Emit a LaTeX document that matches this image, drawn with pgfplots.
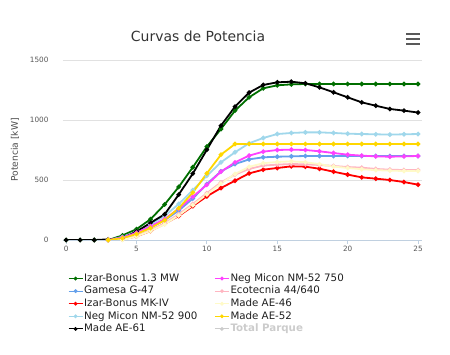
\documentclass[border=0pt]{standalone}
\usepackage{fontspec}
\setmainfont{DejaVu Sans}
\usepackage{pgfplots}
\pgfplotsset{compat=1.18}
\definecolor{cGreen}{RGB}{0,110,0}
\definecolor{cBlue}{RGB}{100,160,235}
\definecolor{cRed}{RGB}{255,0,0}
\definecolor{cLBlue}{RGB}{160,215,235}
\definecolor{cMag}{RGB}{255,64,255}
\definecolor{cPink}{RGB}{255,182,193}
\definecolor{cLYel}{RGB}{255,250,200}
\definecolor{cYel}{RGB}{255,215,0}
\definecolor{cGray}{RGB}{204,204,204}
\definecolor{cAxis}{RGB}{192,208,224}
\definecolor{cGrid}{RGB}{225,225,225}
\definecolor{cTick}{RGB}{85,85,85}
\definecolor{cTitle}{RGB}{51,51,51}
\definecolor{cLeg}{RGB}{30,30,30}
\begin{document}
\begin{tikzpicture}
\path[use as bounding box] (0,0) rectangle (450bp,355bp);
\node[anchor=base, text=cTitle, font=\fontsize{14}{16}\selectfont] at (198bp,313.3bp) {Curvas de Potencia};
\foreach \yy in {321bp,315.7bp,311bp} \draw[line width=1.8bp, color=black!65] (406bp,\yy) -- (420bp,\yy);
\node[rotate=90, text=black!70, font=\fontsize{9.2}{11}\selectfont] at (15bp,205bp) {Potencia [kW]};
\begin{axis}[
  at={(62.7bp,115bp)}, anchor=south west,
  scale only axis, width=359bp, height=180bp,
  xmin=-0.24, xmax=25.26, ymin=0, ymax=1500,
  xtick={0,5,10,15,20,25}, ytick={0,500,1000,1500},
  axis x line*=bottom, axis y line*=left,
  y axis line style={draw=none},
  x axis line style={draw=cAxis, line width=0.8bp},
  ytick style={draw=none},
  xtick style={draw=cAxis, line width=0.8bp},
  tick align=outside, major tick length=4bp,
  ymajorgrids, major grid style={draw=cGrid, line width=0.6bp},
  tick label style={font=\fontsize{7.3}{8}\selectfont, text=cTick},
  /pgf/number format/assume math mode=true,
  /pgf/number format/1000 sep={},
  yticklabel style={inner sep=0pt, xshift=-10bp},
  xticklabel style={inner sep=0pt, yshift=-2bp},
  every axis plot/.append style={line width=1.8bp, mark=*, mark size=1.3bp, mark options={solid}},
  legend style={draw=none, fill=none, at={(0.0148,-0.179)}, anchor=north west,
    font=\fontsize{10.3}{12}\selectfont, text=cLeg, inner sep=0pt, outer sep=0pt,
    row sep=0pt,
    nodes={inner sep=1bp, text height=8bp, text depth=2.6bp},
    /tikz/every even column/.append style={column sep=16bp}},
  legend cell align=left, legend columns=5, transpose legend,
  legend image code/.code={\draw[mark repeat=2,mark phase=2,#1,line width=1.1bp] plot coordinates {(0bp,0bp) (7bp,0bp) (14bp,0bp)};},
]
\addplot[color=cGreen] coordinates {(0,0)(1,0)(2,0)(3,0)(4,38)(5,90)(6,173)(7,296)(8,442)(9,606)(10,778)(11,925)(12,1078)(13,1189)(14,1264)(15,1289)(16,1297)(17,1300)(18,1300)(19,1300)(20,1300)(21,1300)(22,1300)(23,1300)(24,1300)(25,1300)};
\addlegendentry{Izar-Bonus 1.3 MW}
\addplot[color=cBlue] coordinates {(3,0)(4,20)(5,55)(6,105)(7,165)(8,245)(9,345)(10,467)(11,572)(12,633)(13,672)(14,689)(15,694)(16,697)(17,700)(18,700)(19,700)(20,700)(21,700)(22,700)(23,700)(24,700)(25,700)};
\addlegendentry{Gamesa G-47}
\addplot[color=cRed] coordinates {(3,0)(4,5)(5,30)(6,75)(7,135)(8,200)(9,282)(10,364)(11,433)(12,494)(13,555)(14,586)(15,600)(16,614)(17,611)(18,594)(19,569)(20,545)(21,522)(22,511)(23,500)(24,483)(25,461)};
\addlegendentry{Izar-Bonus MK-IV}
\addplot[color=cLBlue] coordinates {(3,0)(4,25)(5,70)(6,130)(7,200)(8,300)(9,415)(10,535)(11,647)(12,731)(13,806)(14,850)(15,883)(16,892)(17,897)(18,897)(19,892)(20,886)(21,883)(22,881)(23,878)(24,881)(25,883)};
\addlegendentry{Neg Micon NM-52 900}
\addplot[color=black] coordinates {(0,0)(1,0)(2,0)(3,5)(4,15)(5,70)(6,143)(7,214)(8,378)(9,553)(10,752)(11,953)(12,1111)(13,1228)(14,1292)(15,1314)(16,1319)(17,1306)(18,1272)(19,1231)(20,1189)(21,1147)(22,1119)(23,1092)(24,1078)(25,1062)};
\addlegendentry{Made AE-61}
\addplot[color=cMag] coordinates {(3,0)(4,20)(5,60)(6,115)(7,175)(8,260)(9,360)(10,460)(11,569)(12,647)(13,703)(14,736)(15,750)(16,753)(17,750)(18,739)(19,725)(20,711)(21,703)(22,697)(23,694)(24,697)(25,700)};
\addlegendentry{Neg Micon NM-52 750}
\addplot[color=cPink] coordinates {(3,0)(4,5)(5,35)(6,80)(7,140)(8,215)(9,300)(10,390)(11,480)(12,545)(13,592)(14,620)(15,628)(16,633)(17,631)(18,625)(19,617)(20,608)(21,603)(22,592)(23,586)(24,583)(25,583)};
\addlegendentry{Ecotecnia 44/640}
\addplot[color=cLYel] coordinates {(3,0)(4,0)(5,30)(6,75)(7,130)(8,205)(9,290)(10,380)(11,470)(12,550)(13,610)(14,640)(15,650)(16,655)(17,648)(18,632)(19,612)(20,600)(21,590)(22,582)(23,578)(24,575)(25,575)};
\addlegendentry{Made AE-46}
\addplot[color=cYel] coordinates {(3,0)(4,15)(5,50)(6,100)(7,165)(8,265)(9,395)(10,555)(11,711)(12,800)(13,800)(14,800)(15,800)(16,800)(17,800)(18,800)(19,800)(20,800)(21,800)(22,800)(23,800)(24,800)(25,800)};
\addlegendentry{Made AE-52}
\addlegendimage{color=cGray, line width=1.8bp, mark=*, mark size=1.3bp}
\addlegendentry{\textcolor{cGray}{\bfseries Total Parque}}
\end{axis}
\end{tikzpicture}
\end{document}
